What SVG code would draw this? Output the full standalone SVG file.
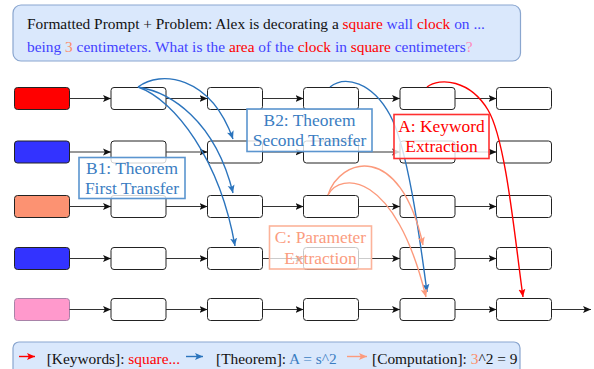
<svg xmlns="http://www.w3.org/2000/svg" width="594" height="369" viewBox="0 0 594 369">
<style>
text{font-family:"Liberation Serif","Times New Roman",serif;}
.hdr{font-size:15.4px;}
.box{fill:#ffffff;stroke:#222;stroke-width:1;}
.flow{stroke:#333;stroke-width:1;fill:none;marker-end:url(#ah);}
.cb{stroke:#2b74bd;stroke-width:1.4;fill:none;marker-end:url(#ahb);}
.cr{stroke:#ff0000;stroke-width:1.4;fill:none;marker-end:url(#ahr);}
.cs{stroke:#fc9a7c;stroke-width:1.4;fill:none;marker-end:url(#ahs);}
.lbl{font-size:17.4px;text-anchor:middle;}
.k{fill:#ff0000;} .b{fill:#4242ff;} .s{fill:#fc8d6a;} .p{fill:#ff88bb;} .tb{fill:#3a7dc2;}
</style>
<defs>
<marker id="ah" markerUnits="userSpaceOnUse" markerWidth="10" markerHeight="8" refX="8" refY="4" orient="auto"><path d="M0,0.5 L8,4 L0,7.5 L1.8,4 Z" fill="#111"/></marker>
<marker id="ahb" markerUnits="userSpaceOnUse" markerWidth="10" markerHeight="8" refX="8" refY="4" orient="auto"><path d="M0,0.5 L8,4 L0,7.5 L1.8,4 Z" fill="#2b74bd"/></marker>
<marker id="ahr" markerUnits="userSpaceOnUse" markerWidth="10" markerHeight="8" refX="8" refY="4" orient="auto"><path d="M0,0.5 L8,4 L0,7.5 L1.8,4 Z" fill="#ff0000"/></marker>
<marker id="ahs" markerUnits="userSpaceOnUse" markerWidth="10" markerHeight="8" refX="8" refY="4" orient="auto"><path d="M0,0.5 L8,4 L0,7.5 L1.8,4 Z" fill="#fc9a7c"/></marker>
</defs>

<g id="prompt">
<rect x="13" y="5" width="507.5" height="56" rx="8" fill="#dae8fc" stroke="#8aa6cf" stroke-width="1.2"/>
<text class="hdr" x="27" y="29"><tspan fill="#111">Formatted Prompt + Problem: Alex is decorating a </tspan><tspan class="k">square</tspan><tspan class="b"> wall </tspan><tspan class="k">clock</tspan><tspan class="b"> on ...</tspan></text>
<text class="hdr" x="27" y="52"><tspan class="b">being </tspan><tspan class="s">3</tspan><tspan class="b"> centimeters. What is the </tspan><tspan class="k">area</tspan><tspan class="b"> of the </tspan><tspan class="k">clock</tspan><tspan class="b"> in </tspan><tspan class="k">square</tspan><tspan class="b"> centimeters</tspan><tspan class="p">?</tspan></text>
</g>

<g id="nodes">
<g id="r0c0"><rect x="14.5" y="87.5" width="55" height="22" rx="3" fill="#ff0000" stroke="#222"/></g>
<g id="r1c0"><rect x="14.5" y="141" width="55" height="22" rx="3" fill="#3333ff" stroke="#222"/></g>
<g id="r2c0"><rect x="14.5" y="195.5" width="55" height="22" rx="3" fill="#fc9272" stroke="#222"/></g>
<g id="r3c0"><rect x="14.5" y="247.5" width="55" height="22" rx="3" fill="#3333ff" stroke="#222"/></g>
<g id="r4c0"><rect x="14.5" y="298.5" width="55" height="22" rx="3" fill="#ff99cc" stroke="#a883a8"/></g>

<g id="r0c1"><rect class="box" x="111" y="87.5" width="55" height="22" rx="3"/></g>
<g id="r0c2"><rect class="box" x="207.5" y="87.5" width="55" height="22" rx="3"/></g>
<g id="r0c3"><rect class="box" x="303.5" y="87.5" width="55" height="22" rx="3"/></g>
<g id="r0c4"><rect class="box" x="400" y="87.5" width="55" height="22" rx="3"/></g>
<g id="r0c5"><rect class="box" x="496.5" y="87.5" width="55" height="22" rx="3"/></g>

<g id="r1c1"><rect class="box" x="111" y="141" width="55" height="22" rx="3"/></g>
<g id="r1c2"><rect class="box" x="207.5" y="141" width="55" height="22" rx="3"/></g>
<g id="r1c3"><rect class="box" x="303.5" y="141" width="55" height="22" rx="3"/></g>
<g id="r1c4"><rect class="box" x="400" y="141" width="55" height="22" rx="3"/></g>
<g id="r1c5"><rect class="box" x="496.5" y="141" width="55" height="22" rx="3"/></g>

<g id="r2c1"><rect class="box" x="111" y="195.5" width="55" height="22" rx="3"/></g>
<g id="r2c2"><rect class="box" x="207.5" y="195.5" width="55" height="22" rx="3"/></g>
<g id="r2c3"><rect class="box" x="303.5" y="195.5" width="55" height="22" rx="3"/></g>
<g id="r2c4"><rect class="box" x="400" y="195.5" width="55" height="22" rx="3"/></g>
<g id="r2c5"><rect class="box" x="496.5" y="195.5" width="55" height="22" rx="3"/></g>

<g id="r3c1"><rect class="box" x="111" y="247.5" width="55" height="22" rx="3"/></g>
<g id="r3c2"><rect class="box" x="207.5" y="247.5" width="55" height="22" rx="3"/></g>
<g id="r3c3"><rect class="box" x="303.5" y="247.5" width="55" height="22" rx="3"/></g>
<g id="r3c4"><rect class="box" x="400" y="247.5" width="55" height="22" rx="3"/></g>
<g id="r3c5"><rect class="box" x="496.5" y="247.5" width="55" height="22" rx="3"/></g>

<g id="r4c1"><rect class="box" x="111" y="298.5" width="55" height="22" rx="3"/></g>
<g id="r4c2"><rect class="box" x="207.5" y="298.5" width="55" height="22" rx="3"/></g>
<g id="r4c3"><rect class="box" x="303.5" y="298.5" width="55" height="22" rx="3"/></g>
<g id="r4c4"><rect class="box" x="400" y="298.5" width="55" height="22" rx="3"/></g>
<g id="r4c5"><rect class="box" x="496.5" y="298.5" width="55" height="22" rx="3"/></g>
</g>

<g id="connectors">
<path class="flow" d="M69.5,98.5H111"/><path class="flow" d="M166,98.5H207.5"/><path class="flow" d="M262.5,98.5H303.5"/><path class="flow" d="M358.5,98.5H400"/><path class="flow" d="M455,98.5H496.5"/>
<path class="flow" d="M69.5,152H111"/><path class="flow" d="M166,152H207.5"/><path class="flow" d="M262.5,152H303.5"/><path class="flow" d="M358.5,152H400"/><path class="flow" d="M455,152H496.5"/>
<path class="flow" d="M69.5,206.5H111"/><path class="flow" d="M166,206.5H207.5"/><path class="flow" d="M262.5,206.5H303.5"/><path class="flow" d="M358.5,206.5H400"/><path class="flow" d="M455,206.5H496.5"/>
<path class="flow" d="M69.5,258.5H111"/><path class="flow" d="M166,258.5H207.5"/><path class="flow" d="M262.5,258.5H303.5"/><path class="flow" d="M358.5,258.5H400"/><path class="flow" d="M455,258.5H496.5"/>
<path class="flow" d="M69.5,309.5H111"/><path class="flow" d="M166,309.5H207.5"/><path class="flow" d="M262.5,309.5H303.5"/><path class="flow" d="M358.5,309.5H400"/><path class="flow" d="M455,309.5H496.5"/><path class="flow" d="M551.5,309.5H591"/>

<path class="cb" d="M138,87 C160,70 210,75 233,139"/>
<path class="cb" d="M138,87 C170,92 215,120 233,193"/>
<path class="cb" d="M138,87 C175,100 220,160 235,246"/>
<path class="cb" d="M330,87 C345,75 372,82 390,115 S420,240 427,292"/>
<path class="cr" d="M427,87 C440,77 470,80 488,110 S515,240 523,297"/>
<path class="cs" d="M328,195 C340,158 400,140 423,245"/>
<path class="cs" d="M328,195 C340,172 395,170 426,297"/>
</g>

<g id="labelB2">
<rect x="247" y="109" width="125" height="42.5" fill="#ffffff" fill-opacity="0.8" stroke="#5b95cf" stroke-width="1.6"/>
<text class="lbl tb" x="309.5" y="126">B2: Theorem</text>
<text class="lbl tb" x="309.5" y="146">Second Transfer</text>
</g>
<g id="labelB1">
<rect x="79" y="157.5" width="106" height="41" fill="#ffffff" fill-opacity="0.8" stroke="#5b95cf" stroke-width="1.6"/>
<text class="lbl tb" x="132" y="174">B1: Theorem</text>
<text class="lbl tb" x="132" y="194">First Transfer</text>
</g>
<g id="labelA">
<rect x="394" y="114.5" width="95" height="44" fill="#ffffff" fill-opacity="0.8" stroke="#ff3030" stroke-width="1.6"/>
<text class="lbl k" x="441.5" y="132">A: Keyword</text>
<text class="lbl k" x="441.5" y="152">Extraction</text>
</g>
<g id="labelC">
<rect x="269.5" y="226" width="102" height="43" fill="#ffffff" fill-opacity="0.75" stroke="#fcb39a" stroke-width="1.6"/>
<text class="lbl" fill="#fb9c80" x="320.5" y="243">C: Parameter</text>
<text class="lbl" fill="#fb9c80" x="320.5" y="264">Extraction</text>
</g>

<g id="legend">
<rect x="13" y="342" width="507" height="40" rx="6" fill="#dae8fc" stroke="#8aa6cf" stroke-width="1.2"/>
<path d="M19,356.5H35" stroke="#ff0000" stroke-width="1.4" marker-end="url(#ahr)"/>
<path d="M186,356.5H203" stroke="#2b74bd" stroke-width="1.4" marker-end="url(#ahb)"/>
<path d="M347,356.5H367" stroke="#fc9a7c" stroke-width="1.4" marker-end="url(#ahs)"/>
<text class="hdr" x="46.7" y="364"><tspan fill="#111">[Keywords]: </tspan><tspan class="k">square...</tspan></text>
<text class="hdr" x="216" y="364"><tspan fill="#111">[Theorem]: </tspan><tspan class="tb">A = s^2</tspan></text>
<text class="hdr" x="372" y="364"><tspan fill="#111">[Computation]: </tspan><tspan class="s">3</tspan><tspan fill="#111">^2 = 9</tspan></text>
</g>
</svg>
